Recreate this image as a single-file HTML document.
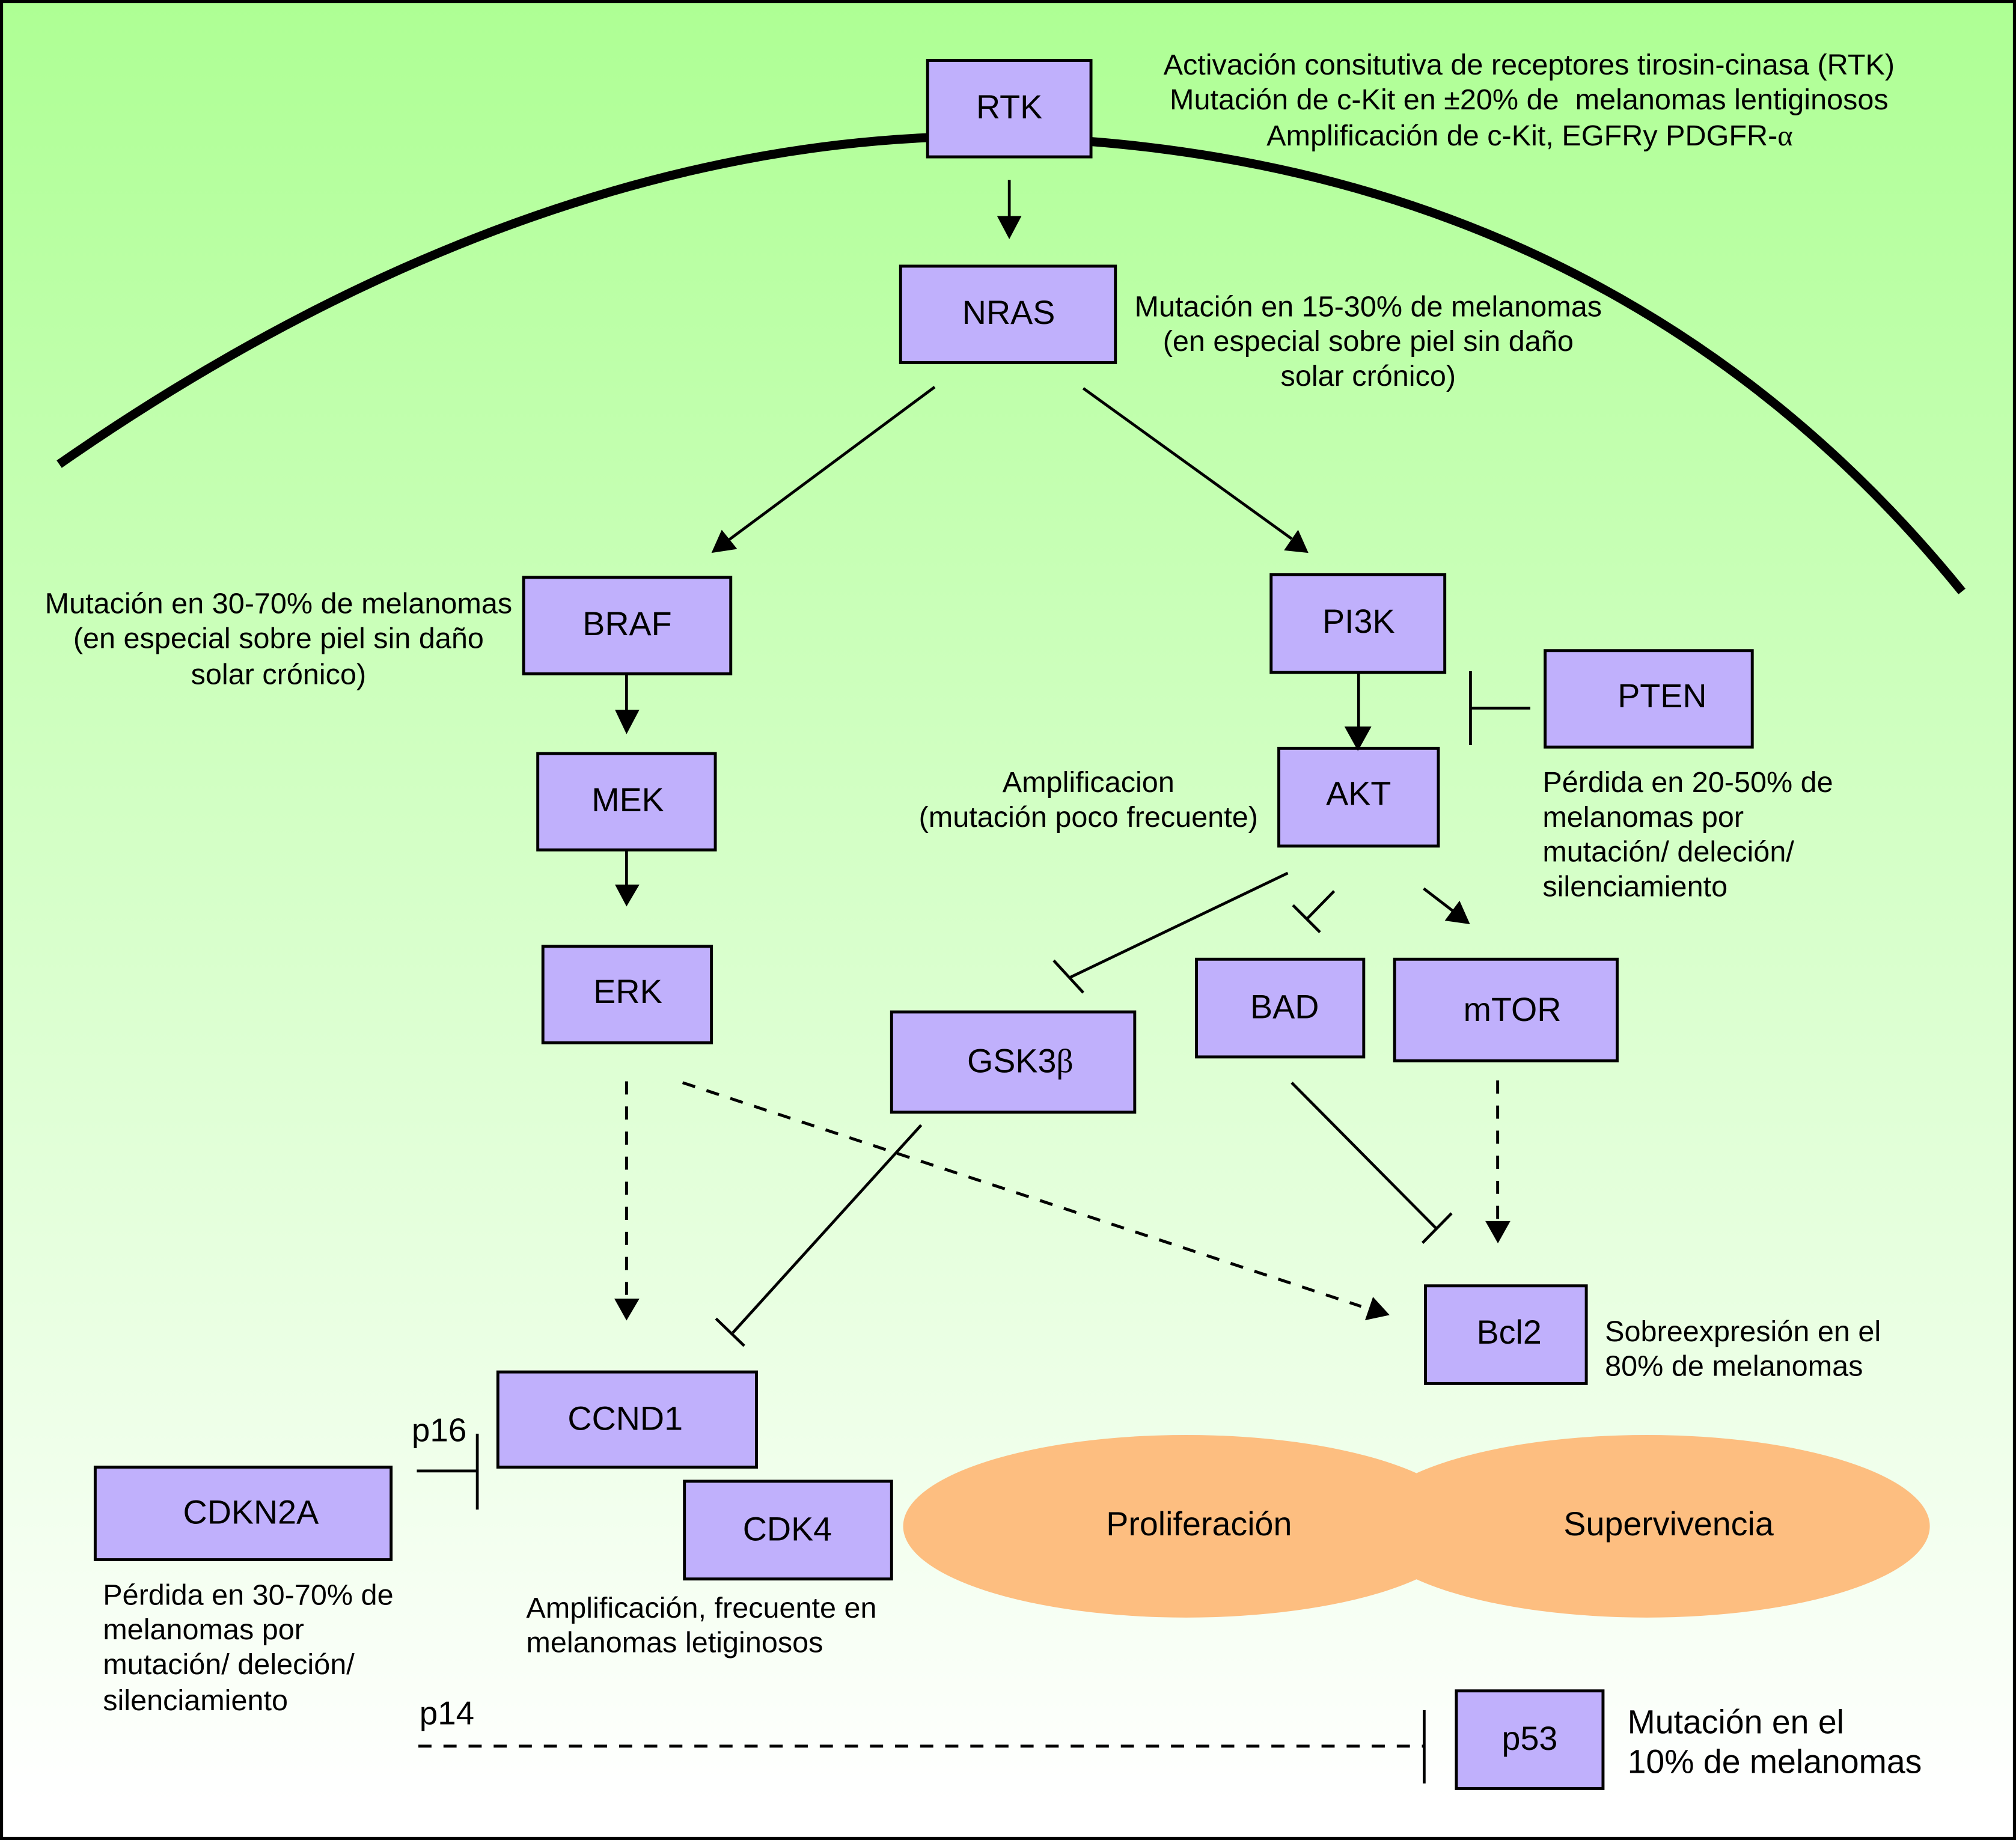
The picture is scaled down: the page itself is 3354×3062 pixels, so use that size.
<!DOCTYPE html>
<html><head><meta charset="utf-8"><style>
html,body{margin:0;padding:0;background:#fff}
svg{display:block}
text{font-family:"Liberation Sans",sans-serif;fill:#000;font-size:22.7px;white-space:pre}
.l{font-size:26px;text-anchor:middle}
.m{text-anchor:middle}
.b{fill:#c0b0fc;stroke:#000;stroke-width:2.3}
.c{stroke:#000;stroke-width:2.2;fill:none}
.d{stroke:#000;stroke-width:2.3;fill:none;stroke-dasharray:10.2 9.3}
.s{font-family:"Liberation Serif",serif}
</style></head><body>
<svg xmlns="http://www.w3.org/2000/svg" width="3354" height="3062" viewBox="0 0 1567 1431" preserveAspectRatio="none">
<defs><linearGradient id="g" x1="0" y1="0" x2="0" y2="1"><stop offset="0" stop-color="#aeff94"/><stop offset="0.98" stop-color="#ffffff"/></linearGradient></defs>
<rect x="1.200" y="1.200" width="1564.600" height="1428.600" fill="url(#g)" stroke="#000" stroke-width="2.400"/>

<path d="M46 361C270 205 500 117 722 107" fill="none" stroke="#000" stroke-width="7"/>
<path d="M847 110C1087 129 1332 222 1525 460" fill="none" stroke="#000" stroke-width="7"/>

<ellipse cx="922" cy="1187" rx="220" ry="71" fill="#fdbe80"/>
<ellipse cx="1280" cy="1187" rx="220" ry="71" fill="#fdbe80"/>

<rect class="b" x="721" y="47" width="127" height="75"/>
<rect class="b" x="700" y="207" width="167" height="75"/>
<rect class="b" x="407" y="449" width="161" height="75"/>
<rect class="b" x="988" y="447" width="135" height="76"/>
<rect class="b" x="1201" y="506" width="161" height="75"/>
<rect class="b" x="418" y="586" width="138" height="75"/>
<rect class="b" x="994" y="582" width="124" height="76"/>
<rect class="b" x="422" y="736" width="131" height="75"/>
<rect class="b" x="930" y="746" width="130" height="76"/>
<rect class="b" x="1084" y="746" width="173" height="79"/>
<rect class="b" x="693" y="787" width="189" height="78"/>
<rect class="b" x="1108" y="1000" width="125" height="76"/>
<rect class="b" x="387" y="1067" width="201" height="74"/>
<rect class="b" x="532" y="1152" width="161" height="76"/>
<rect class="b" x="74" y="1141" width="230" height="72"/>
<rect class="b" x="1132" y="1315" width="114" height="76"/>

<path class="c" d="M784.500 140V170M487 524V555M487 661V690M1056 523V568"/>
<polygon points="775,168 794,168 784.500,186"/>
<polygon points="478,552 497,552 487,571"/>
<polygon points="478,688 497,688 487,705"/>
<polygon points="1045,565 1066,565 1055.500,584"/>
<path class="c" d="M726.500 301L565 421"/>
<polygon points="561,412 553,430 573,427"/>
<path class="c" d="M842 302L1004 419"/>
<polygon points="1009,412 998,428 1017,430"/>
<path class="c" d="M1189.500 550.700H1143M1143 522V579.500"/>
<path class="c" d="M1001 679L832 760M819 747L842 772"/>
<path class="c" d="M1037 693L1016.500 714M1005 704L1026 725"/>
<path class="c" d="M1106.600 691L1130 709"/>
<polygon points="1134.500,700.500 1123,716 1142.600,718.800"/>
<path class="c" d="M1004 842L1115.800 954.800M1105.700 966.600L1128.300 943.600"/>
<path class="c" d="M716 875L569.600 1036.500M556.500 1025.500L578.500 1046.700"/>
<path class="d" d="M487 841V1007"/>
<polygon points="477.500,1010 497,1010 487,1027"/>
<path class="d" d="M530.600 842L1058 1016"/>
<polygon points="1067.200,1008.600 1061,1026.800 1080.100,1022.700"/>
<path class="d" d="M1164.100 840.300V948"/>
<polygon points="1154.500,949.600 1174,949.600 1164.300,967"/>
<path class="c" d="M324 1144H371M371 1115V1174"/>
<path class="d" d="M325.200 1358H1107"/>
<path class="c" d="M1107 1330V1387"/>

<text class="l" x="784.500" y="92">RTK</text>
<text class="l" x="784" y="252">NRAS</text>
<text class="l" x="487.500" y="494">BRAF</text>
<text class="l" x="1056" y="492">PI3K</text>
<text class="l" x="1292" y="550">PTEN</text>
<text class="l" x="488" y="631">MEK</text>
<text class="l" x="1056" y="626">AKT</text>
<text class="l" x="488" y="780">ERK</text>
<text class="l" x="998.500" y="792">BAD</text>
<text class="l" x="1175.500" y="794">mTOR</text>
<text class="l" x="793" y="834">GSK3<tspan class="s">β</tspan></text>
<text class="l" x="1173" y="1045">Bcl2</text>
<text class="l" x="486" y="1112">CCND1</text>
<text class="l" x="612" y="1198">CDK4</text>
<text class="l" x="195" y="1185">CDKN2A</text>
<text class="l" x="1189" y="1361">p53</text>
<text class="l" x="932" y="1194">Proliferación</text>
<text class="l" x="1297" y="1194">Supervivencia</text>

<text class="m" x="1188.500" y="58">Activación consitutiva de receptores tirosin-cinasa (RTK)</text>
<text class="m" x="1188.500" y="85">Mutación de c-Kit en ±20% de  melanomas lentiginosos</text>
<text class="m" x="1189" y="113">Amplificación de c-Kit, EGFRy PDGFR-<tspan class="s">α</tspan></text>
<text class="m" x="1063.500" y="246">Mutación en 15-30% de melanomas</text>
<text class="m" x="1063.500" y="273">(en especial sobre piel sin daño</text>
<text class="m" x="1063.500" y="300">solar crónico)</text>
<text class="m" x="216.500" y="477">Mutación en 30-70% de melanomas</text>
<text class="m" x="216.500" y="504">(en especial sobre piel sin daño</text>
<text class="m" x="216.500" y="532">solar crónico)</text>
<text class="m" x="846" y="616">Amplificacion</text>
<text class="m" x="846" y="643">(mutación poco frecuente)</text>
<text x="1199" y="616">Pérdida en 20-50% de</text>
<text x="1199" y="643">melanomas por</text>
<text x="1199" y="670">mutación/ deleción/</text>
<text x="1199" y="697">silenciamiento</text>
<text x="1247.500" y="1043">Sobreexpresión en el</text>
<text x="1247.500" y="1070">80% de melanomas</text>
<text x="320" y="1121" style="font-size:25.600px">p16</text>
<text x="80" y="1248">Pérdida en 30-70% de</text>
<text x="80" y="1275">melanomas por</text>
<text x="80" y="1302">mutación/ deleción/</text>
<text x="80" y="1330">silenciamiento</text>
<text x="409" y="1258">Amplificación, frecuente en</text>
<text x="409" y="1285">melanomas letiginosos</text>
<text x="326" y="1341" style="font-size:25.600px">p14</text>
<text x="1265" y="1348" style="font-size:25.900px">Mutación en el</text>
<text x="1265" y="1379" style="font-size:25.900px">10% de melanomas</text>
</svg>
</body></html>
